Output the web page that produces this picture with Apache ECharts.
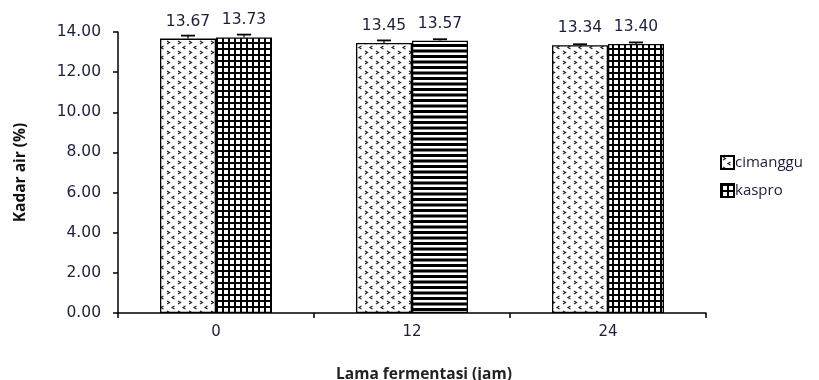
<!DOCTYPE html>
<html>
<head>
<meta charset="utf-8">
<script src="https://cdn.jsdelivr.net/npm/echarts@6/dist/echarts.min.js"></script>
<style>
html,body{margin:0;padding:0;background:#fff;}
#chart{width:819px;height:380px;}
</style>
</head>
<body>
<div id="chart"></div>
<script>
const categories = ['0', '12', '24'];
const seriesNames = ['cimanggu', 'kaspro'];
const cimanggu = [13.67, 13.45, 13.34];
const kaspro = [13.73, 13.57, 13.40];
const cimangguErr = [0.15, 0.13, 0.05];
const kasproErr = [0.14, 0.07, 0.08];
const yMin = 0, yMax = 14, yInterval = 2;

function makeCanvas(w, h, draw) {
  const c = document.createElement('canvas');
  c.width = w; c.height = h;
  const ctx = c.getContext('2d');
  ctx.fillStyle = '#fff';
  ctx.fillRect(0, 0, w, h);
  draw(ctx);
  return c;
}
const chevronTile = makeCanvas(11, 10, ctx => {
  ctx.strokeStyle = '#222';
  ctx.lineWidth = 1.2;
  ctx.beginPath();
  ctx.moveTo(2, 1); ctx.lineTo(4.5, 2.5); ctx.lineTo(2, 4);
  ctx.moveTo(9.5, 6); ctx.lineTo(7, 7.5); ctx.lineTo(9.5, 9);
  ctx.stroke();
});
const gridTile = makeCanvas(6, 6, ctx => {
  ctx.fillStyle = '#000';
  ctx.fillRect(0, 0, 6, 2);
  ctx.fillRect(0, 0, 2, 6);
});
const stripeTile = makeCanvas(4, 11, ctx => {
  ctx.fillStyle = '#000';
  ctx.fillRect(0, 0, 4, 3);
  ctx.fillRect(0, 5.5, 4, 3);
});
const chevronFill = { image: chevronTile, repeat: 'repeat' };
const gridFill = { image: gridTile, repeat: 'repeat' };
const stripeFill = { image: stripeTile, repeat: 'repeat' };

const BAR_W = 56;
const textColor = '#1c1f3a';

function errSeries(values, errs, side) {
  return {
    type: 'custom',
    silent: true,
    z: 10,
    data: values.map((v, i) => [i, v, errs[i]]),
    encode: { x: 0, y: 1 },
    renderItem: function (params, api) {
      const base = api.coord([api.value(0), api.value(1)]);
      const top = api.coord([api.value(0), api.value(1) + api.value(2)]);
      const cx = base[0] + side * BAR_W / 2;
      return {
        type: 'group',
        children: [
          { type: 'line', shape: { x1: cx, y1: base[1], x2: cx, y2: top[1] }, style: { stroke: '#000', lineWidth: 1.2 } },
          { type: 'line', shape: { x1: cx - 7, y1: top[1], x2: cx + 7, y2: top[1] }, style: { stroke: '#000', lineWidth: 1.8 } }
        ]
      };
    }
  };
}

const labelStyle = {
  show: true, position: 'top', distance: 9,
  color: textColor, fontFamily: 'DejaVu Sans', fontSize: 15.5,
  formatter: p => Number(p.value).toFixed(2)
};

const chart = echarts.init(document.getElementById('chart'), null, { renderer: 'canvas' });
chart.setOption({
  animation: false,
  backgroundColor: '#fff',
  grid: { left: 118, top: 32, right: 113, bottom: 67, containLabel: false, outerBoundsMode: 'none' },
  legend: {
    data: seriesNames,
    orient: 'vertical',
    left: 715, top: 150,
    itemWidth: 13, itemHeight: 13, itemGap: 13,
    icon: 'rect',
    textStyle: { fontFamily: 'Open Sans', fontSize: 15, color: textColor, padding: [0, 0, 0, -4] }
  },
  xAxis: {
    type: 'category',
    data: categories,
    name: 'Lama fermentasi (jam)',
    nameLocation: 'middle',
    nameGap: 54,
    nameTextStyle: { fontFamily: 'Open Sans', fontWeight: 'bold', fontSize: 15.5, color: '#222', padding: [0, 0, 0, 24] },
    axisLine: { lineStyle: { color: '#000', width: 1.5 } },
    axisTick: { show: true, length: 5, lineStyle: { color: '#000', width: 1.5 } },
    axisLabel: { margin: 12, color: textColor, fontFamily: 'DejaVu Sans', fontSize: 15 },
    splitLine: { show: false }
  },
  yAxis: {
    type: 'value',
    min: yMin, max: yMax, interval: yInterval,
    name: 'Kadar air (%)',
    nameLocation: 'middle',
    nameGap: 89,
    nameTextStyle: { fontFamily: 'Open Sans', fontWeight: 'bold', fontSize: 15.5, color: '#111' },
    axisLine: { show: true, lineStyle: { color: '#000', width: 1.5 } },
    axisTick: { show: true, length: 5, lineStyle: { color: '#000', width: 1.5 } },
    axisLabel: { margin: 17, color: textColor, fontFamily: 'DejaVu Sans', fontSize: 15.5, formatter: v => v.toFixed(2) },
    splitLine: { show: false }
  },
  series: [
    {
      name: seriesNames[0], type: 'bar', barWidth: BAR_W, barGap: '0%',
      itemStyle: { color: chevronFill, borderColor: '#000', borderWidth: 1.3 },
      label: labelStyle,
      data: cimanggu
    },
    {
      name: seriesNames[1], type: 'bar', barWidth: BAR_W, barGap: '0%',
      itemStyle: { color: gridFill, borderColor: '#000', borderWidth: 1.3 },
      label: labelStyle,
      data: kaspro.map((v, i) => i === 1 ? { value: v, itemStyle: { color: stripeFill } } : v)
    },
    errSeries(cimanggu, cimangguErr, -1),
    errSeries(kaspro, kasproErr, 1)
  ]
});
</script>
</body>
</html>
